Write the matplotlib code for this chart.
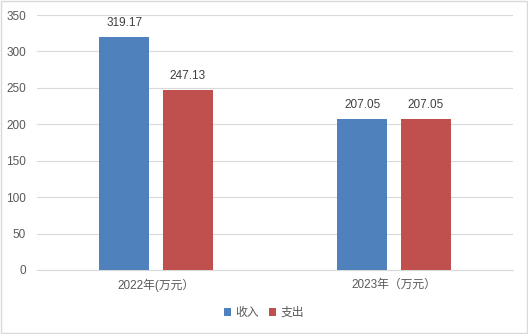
import matplotlib
matplotlib.use("Agg")
import matplotlib.pyplot as plt
import numpy as np
from matplotlib.patches import Rectangle

plt.rcParams['font.family'] = ['Liberation Sans', 'Noto Sans CJK SC', 'DejaVu Sans']

categories = ["2022年(万元）", "2023年（万元）"]
series_names = ["收入", "支出"]
income = [319.17, 207.05]
expense = [247.13, 207.05]
colors = ["#4F81BD", "#C0504D"]
yticks = [0, 50, 100, 150, 200, 250, 300, 350]

fig = plt.figure(figsize=(5.28, 3.34), dpi=100)
ax = fig.add_axes([37/528, 1-270/334, (513-37)/528, (270-15)/334])

x = np.arange(len(categories))
w = 0.21
off = 0.134
b1 = ax.bar(x - off, income, w, color=colors[0], label=series_names[0], zorder=3)
b2 = ax.bar(x + off, expense, w, color=colors[1], label=series_names[1], zorder=3)

for bars, vals in ((b1, income), (b2, expense)):
    for r, v in zip(bars, vals):
        ax.annotate(f"{v:.2f}", (r.get_x() + r.get_width()/2, v), xytext=(0, 6),
                    textcoords="offset points", ha="center", va="bottom",
                    fontsize=8.5, color="#404040")

ax.set_xlim(-0.5, 1.5)
ax.set_ylim(0, 350)
ax.set_yticks(yticks)
ax.set_xticks(x)
ax.set_xticklabels(categories)
ax.tick_params(axis='both', length=0, labelsize=8.5, colors="#595959")
ax.tick_params(axis='y', pad=8)
ax.tick_params(axis='x', pad=6)
ax.grid(axis='y', color="#D9D9D9", linewidth=0.8, zorder=0)
for s in ("top", "right", "left"):
    ax.spines[s].set_visible(False)
ax.spines["bottom"].set_color("#D9D9D9")
ax.spines["bottom"].set_linewidth(0.8)

leg = fig.legend(handles=[b1, b2], labels=series_names, loc="center",
                 bbox_to_anchor=(0.5, 1-313/334), ncol=2, frameon=False,
                 fontsize=8.5, handlelength=0.6, handleheight=0.6,
                 handletextpad=0.4, columnspacing=0.8)
for t in leg.get_texts():
    t.set_color("#595959")

fig.patches.append(Rectangle((0.002, 0.003), 0.996, 0.994, transform=fig.transFigure,
                             fill=False, edgecolor="#D9D9D9", linewidth=1))

fig.savefig("out.png", dpi=100)
